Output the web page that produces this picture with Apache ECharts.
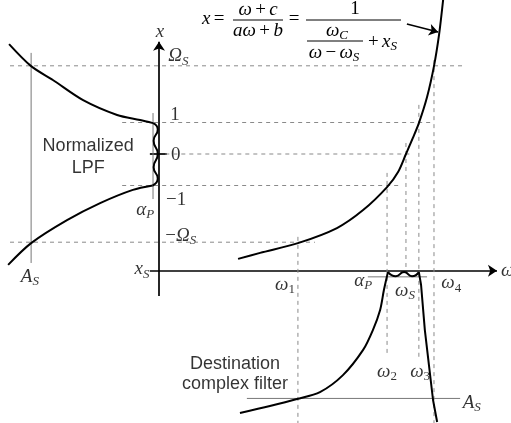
<!DOCTYPE html>
<html>
<head>
<meta charset="utf-8">
<script src="https://cdn.jsdelivr.net/npm/echarts@6/dist/echarts.min.js"></script>
<style>
  html, body { margin: 0; padding: 0; background: #fff; }
  #chart { width: 511px; height: 423px; }
</style>
</head>
<body>
<div id="chart"></div>
<script>
// units: 1 = one step of the normalized x axis, origin at x axis / level 0
const X_S = -3.71
const OMEGA_S = 2.8

// dashed horizontal levels
const levelVals = [OMEGA_S, 1, 0, -1, -OMEGA_S]
const levelFrom = [-4.73, -1.17, 0.2, -1.17, -4.73]
const levelTo = [9.62, 8.67, 7.97, 7.65, 4.95]

// dashed vertical frequency markers
const freqPos = [4.41, 7.24, 7.84, 8.25, 8.73]
const freqTop = [-2.63, -0.60, 0.35, 1.56, 2.98]
const freqBottom = [-8.54, -6.44, X_S, -6.44, -8.54]

// normalized LPF (attenuation grows to the left)
const lpfUpper = [[-4.76, 3.49], [-4.06, 2.79], [-3.37, 2.35], [-2.41, 1.71], [-1.33, 1.24], [-0.6, 1.08], [-0.19, 0.98]]
const lpfRipple = [[-0.19, 0.98], [-0.04, 0.78], [-0.17, 0.42], [-0.04, 0], [-0.17, -0.42], [-0.04, -0.78], [-0.2, -1.0]]
const lpfLower = [[-0.2, -1.0], [-0.83, -1.14], [-1.87, -1.56], [-2.92, -2.1], [-4.06, -2.83], [-4.79, -3.52]]

// frequency transformation x(ω)
const mapCurve = [[2.51, -3.33], [3.21, -3.14], [4.41, -2.83], [5.65, -2.35], [6.48, -1.78], [7.24, -1.05],
  [7.59, -0.57], [7.84, 0], [8.06, 0.51], [8.25, 0.98], [8.51, 1.81], [8.73, 2.79], [8.89, 3.78], [9.02, 4.89]]

// destination complex filter (attenuation grows downwards from x_S)
const destLeft = [[2.57, -8.22], [3.52, -8.0], [4.38, -7.78], [5.11, -7.56], [5.84, -7.02], [6.48, -6.22],
  [6.79, -5.59], [7.02, -4.95], [7.14, -4.32], [7.24, -3.87], [7.27, -3.75]]
const destRipple = [[7.27, -3.75], [7.52, -3.88], [7.78, -3.75], [8.03, -3.88], [8.25, -3.75]]
const destRight = [[8.25, -3.75], [8.32, -4.16], [8.44, -5.59], [8.57, -6.7], [8.7, -7.81], [8.83, -8.51]]

// thin gray reference lines: [x1, y1, x2, y2]
const grayLines = [
  [-4.06, 3.21, -4.06, -3.46],   // A_S of LPF
  [-0.19, 1.30, -0.19, -1.43],   // alpha_P of LPF
  [2.79, -7.76, 9.56, -7.76],    // A_S of destination
  [6.63, -3.90, 8.51, -3.90]     // alpha_P of destination
]

// axes drawn as lines: [x1, y1, x2, y2, arrow]
const axisLines = [
  [0, -4.51, 0, 3.56, true],
  [-0.29, X_S, 10.73, X_S, true],
  [-0.29, 0, 0.25, 0, false]
]

// text labels: [x, y, rich text, align]
const labelPos = [
  [0.03, 3.87, '{i|x}', 'center'],
  [0.29, 3.1, '{i|Ω}{s|S}', 'left'],
  [0.36, 1.23, '{r|1}', 'left'],
  [0.38, -0.03, '{r|0}', 'left'],
  [0.22, -1.46, '{r|−1}', 'left'],
  [-0.44, -1.78, '{i|α}{s|P}', 'center'],
  [0.2, -2.6, '{r|−}{i|Ω}{s|S}', 'left'],
  [-0.3, -3.66, '{i|x}{s|S}', 'right'],
  [-4.1, -3.9, '{i|A}{s|S}', 'center'],
  [-2.25, 0.24, '{sans|Normalized}', 'center'],
  [-2.25, -0.43, '{sans|LPF}', 'center'],
  [4.0, -4.16, '{i|ω}{sr|1}', 'center'],
  [6.48, -4.03, '{i|α}{s|P}', 'center'],
  [7.81, -4.34, '{i|ω}{s|S}', 'center'],
  [9.28, -4.1, '{i|ω}{sr|4}', 'center'],
  [10.86, -3.71, '{i|ω}', 'left'],
  [7.24, -6.92, '{i|ω}{sr|2}', 'center'],
  [8.29, -6.92, '{i|ω}{sr|3}', 'center'],
  [9.64, -7.9, '{i|A}{s|S}', 'left'],
  [2.41, -6.66, '{sans|Destination}', 'center'],
  [2.41, -7.3, '{sans|complex filter}', 'center']
]

// arrow from the formula to the curve
const formulaArrow = [[7.87, 4.13], [8.86, 3.87]]

const serif = '"Liberation Serif", "DejaVu Serif", serif'
const rich = {
  i: { fontFamily: serif, fontStyle: 'italic', fontSize: 19, color: '#000' },
  r: { fontFamily: serif, fontSize: 19, color: '#000' },
  s: { fontFamily: serif, fontStyle: 'italic', fontSize: 13, color: '#000', padding: [10, 0, 0, 0] },
  sr: { fontFamily: serif, fontSize: 13, color: '#000', padding: [10, 0, 0, 0] },
  sans: { fontFamily: '"Liberation Sans", Arial, sans-serif', fontSize: 18, color: '#000' }
}

const chart = echarts.init(document.getElementById('chart'))

const seg = (a, b, style) => ({
  type: 'line', data: [a, b], showSymbol: false, silent: true, animation: false,
  lineStyle: style
})
const curve = (data, smooth) => ({
  type: 'line', data: data, smooth: smooth, showSymbol: false, silent: true, animation: false,
  lineStyle: { color: '#000', width: 2 }
})

const dashStyle = { color: '#8a8a8a', width: 1, type: [4, 4] }
const series = []

levelVals.forEach((v, i) => {
  series.push(seg([levelFrom[i], v], [levelTo[i], v], dashStyle))
})
freqPos.forEach((x, i) => {
  series.push(seg([x, freqTop[i]], [x, freqBottom[i]], dashStyle))
})
grayLines.forEach(l => {
  series.push(seg([l[0], l[1]], [l[2], l[3]], { color: '#777', width: 1 }))
})

series.push(curve(lpfUpper, 0.3))
series.push(curve(lpfRipple, 0.6))
series.push(curve(lpfLower, 0.3))
series.push(curve(mapCurve, 0.3))
series.push(curve(destLeft, 0.3))
series.push(curve(destRipple, 0.6))
series.push(curve(destRight, false))

series.push({
  type: 'lines',
  coordinateSystem: 'cartesian2d',
  silent: true,
  animation: false,
  symbol: ['none', 'arrow'],
  symbolSize: 9,
  lineStyle: { color: '#000', width: 1.7, opacity: 1 },
  data: axisLines.map(a => ({
    coords: [[a[0], a[1]], [a[2], a[3]]],
    symbol: a[4] ? ['none', 'arrow'] : ['none', 'none']
  })).concat([{ coords: formulaArrow, lineStyle: { width: 1.5 } }])
})

series.push({
  type: 'scatter',
  symbolSize: 0,
  silent: true,
  animation: false,
  data: labelPos.map(l => ({
    value: [l[0], l[1]],
    label: { formatter: l[2], align: l[3] }
  })),
  label: { show: true, position: 'inside', verticalAlign: 'middle', rich: rich }
})

// formula x = (ω + c)/(aω + b) = 1/(ωC/(ω − ωS) + xS)
const ft = (text, x, y, align) => ({
  type: 'text', silent: true,
  style: { text: text, x: x, y: y, align: align || 'center', verticalAlign: 'middle', rich: rich, fill: '#000' }
})
const bar = (x1, x2, y) => ({
  type: 'line', silent: true,
  shape: { x1: x1, y1: y, x2: x2, y2: y },
  style: { stroke: '#000', lineWidth: 1 }
})

chart.setOption({
  backgroundColor: '#fff',
  grid: { left: 0, right: 0, top: 0, bottom: 0 },
  xAxis: { type: 'value', min: -5.048, max: 11.175, show: false },
  yAxis: { type: 'value', min: -8.54, max: 4.889, show: false },
  series: series,
  graphic: [
    ft('{i|x} {r|=}', 202, 19, 'left'),
    ft('{i|ω} {r|+} {i|c}', 258, 10),
    bar(233, 283, 20),
    ft('{i|a}{i|ω} {r|+} {i|b}', 258, 31),
    ft('{r|=}', 294, 19),
    ft('{r|1}', 355, 9),
    bar(306, 401, 20),
    ft('{i|ω}{s|C}', 337, 31),
    bar(307, 363, 41),
    ft('{r|+} {i|x}{s|S}', 368, 42, 'left'),
    ft('{i|ω} {r|−} {i|ω}{s|S}', 334, 53)
  ]
})
</script>
</body>
</html>
